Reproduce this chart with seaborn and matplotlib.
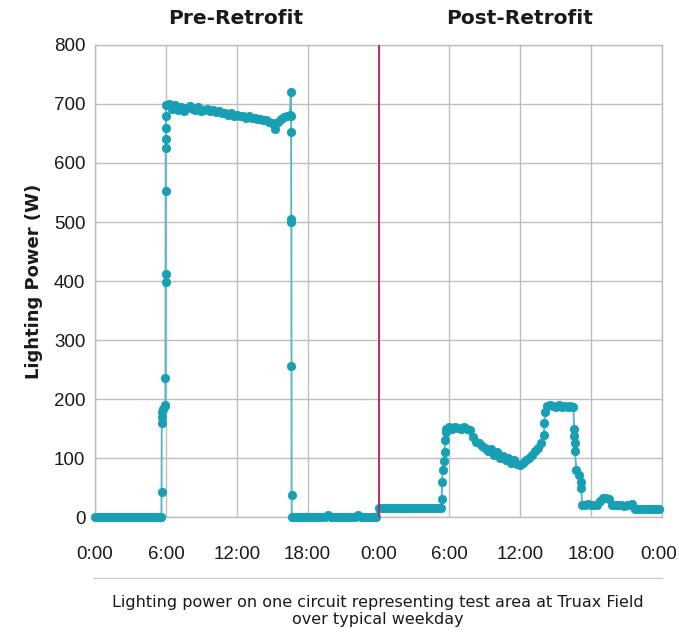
import numpy as np
import pandas as pd
import matplotlib.pyplot as plt
import matplotlib.transforms as mtransforms
import seaborn as sns

# 15-minute readings (W), one typical weekday each
pre_watts = [
    0, 0, 0, 0, 0, 0, 0, 0, 0, 0, 0, 0,
    0, 0, 0, 0, 0, 0, 0, 0, 0, 0, 0, 184,
    698, 700, 692, 698, 690, 695, 688, 694, 697, 692, 690, 695,
    688, 690, 692, 688, 690, 686, 688, 684, 685, 682, 684, 680,
    682, 679, 680, 677, 680, 676, 677, 674, 675, 672, 673, 670,
    668, 658, 670, 675, 678, 680, 682, 0, 0, 0, 0, 0,
    0, 0, 0, 0, 0, 0, 0, 3, 0, 0, 0, 0,
    0, 0, 0, 0, 0, 3, 0, 0, 0, 0, 0, 0,
]
post_watts = [
    15, 15, 15, 15, 15, 15, 15, 15, 15, 15, 15, 15,
    15, 15, 15, 15, 15, 15, 15, 15, 15, 15, 95, 150,
    152, 150, 153, 151, 150, 152, 150, 148, 135, 128, 125, 120,
    118, 112, 115, 106, 110, 100, 104, 96, 100, 92, 96, 90,
    88, 92, 96, 100, 106, 112, 118, 126, 140, 188, 190, 189,
    186, 190, 187, 189, 186, 188, 186, 80, 72, 20, 20, 22,
    20, 21, 20, 28, 33, 32, 30, 21, 20, 21, 20, 19,
    20, 20, 23, 14, 13, 13, 13, 13, 13, 13, 13, 13,
]

# extra readings logged while the lights switched on/off
pre_switch_hours = [5.62, 5.63, 5.64, 5.65, 5.66,
                    5.95, 5.955, 5.96, 5.965, 5.97, 5.975, 5.98, 5.985, 5.99, 5.995,
                    16.58, 16.59, 16.6, 16.61, 16.62, 16.63, 16.64, 16.66]
pre_switch_watts = [0, 42, 160, 170, 178,
                    188, 190, 235, 398, 412, 553, 625, 640, 660, 680,
                    720, 680, 652, 505, 500, 256, 37, 0]
post_switch_hours = [5.35, 5.38, 5.42, 5.6, 5.65, 5.7,
                     14.05, 14.08, 16.55, 16.57, 16.6, 16.62, 17.1, 17.15]
post_switch_watts = [30, 60, 80, 110, 130, 145,
                     160, 178, 150, 138, 125, 112, 60, 50]

x_ticks = [0, 6, 12, 18, 24, 30, 36, 42, 48]
x_tick_labels = ["0:00", "6:00", "12:00", "18:00", "0:00", "6:00", "12:00", "18:00", "0:00"]

grid_hours = np.arange(96) * 0.25
pre = pd.DataFrame({"hour": np.r_[grid_hours, pre_switch_hours],
                    "watts": np.r_[pre_watts, pre_switch_watts]})
post = pd.DataFrame({"hour": np.r_[grid_hours, post_switch_hours] + 24,
                     "watts": np.r_[post_watts, post_switch_watts]})
df = pd.concat([pre, post]).sort_values("hour", kind="stable")

sns.set_theme(style="whitegrid")
plt.rcParams["font.family"] = ["DejaVu Sans"]

fig = plt.figure(figsize=(6.79, 6.33), dpi=100)
ax = fig.add_axes([0.140, 0.183, 0.835, 0.746])

sns.lineplot(data=df, x="hour", y="watts", estimator=None, sort=False, ax=ax,
             color="#5BB8C7", linewidth=1.4, marker="o", markersize=6.0,
             markerfacecolor="#17A0B3", markeredgecolor="#17A0B3",
             markeredgewidth=0.6, clip_on=False, zorder=3)

ax.axvline(24, color="#B0226A", linewidth=1.3, zorder=4)

ax.set_xlim(0, 48)
ax.set_ylim(0, 800)
ax.set_xticks(x_ticks)
ax.set_xticklabels(x_tick_labels)
ax.set_yticks(range(0, 801, 100))
ax.grid(True, color="#BEBEBE", linewidth=1.0)
for s in ax.spines.values():
    s.set_color("#BEBEBE")
    s.set_linewidth(1.0)
ax.tick_params(axis="x", length=0, pad=21, colors="#1a1a1a")
ax.tick_params(axis="y", length=0, pad=7, colors="#1a1a1a")
for lab in ax.get_xticklabels() + ax.get_yticklabels():
    lab.set_fontfamily(["Liberation Sans", "DejaVu Sans"])
    lab.set_fontsize(13.5)
# keep the last 0:00 inside the picture
last = ax.get_xticklabels()[-1]
last.set_transform(last.get_transform() + mtransforms.ScaledTranslation(-3 / 100, 0, fig.dpi_scale_trans))

ax.set_xlabel("")
ax.set_ylabel("Lighting Power (W)", fontsize=13, fontweight="bold", labelpad=8, color="#1a1a1a")

fig.text(236 / 679, 1 - 19 / 633, "Pre-Retrofit", ha="center", va="center",
         fontsize=14.5, fontweight="bold", color="#1a1a1a")
fig.text(520 / 679, 1 - 19 / 633, "Post-Retrofit", ha="center", va="center",
         fontsize=14.5, fontweight="bold", color="#1a1a1a")

fig.add_artist(plt.Line2D([93 / 679, 662 / 679], [1 - 578 / 633, 1 - 578 / 633],
                          color="#D0D0D0", linewidth=1.0))
fig.text(378 / 679, 1 - 611 / 633,
         "Lighting power on one circuit representing test area at Truax Field\nover typical weekday",
         ha="center", va="center", fontsize=11.5, color="#1a1a1a", linespacing=1.2)

fig.savefig("out.png", dpi=100)
